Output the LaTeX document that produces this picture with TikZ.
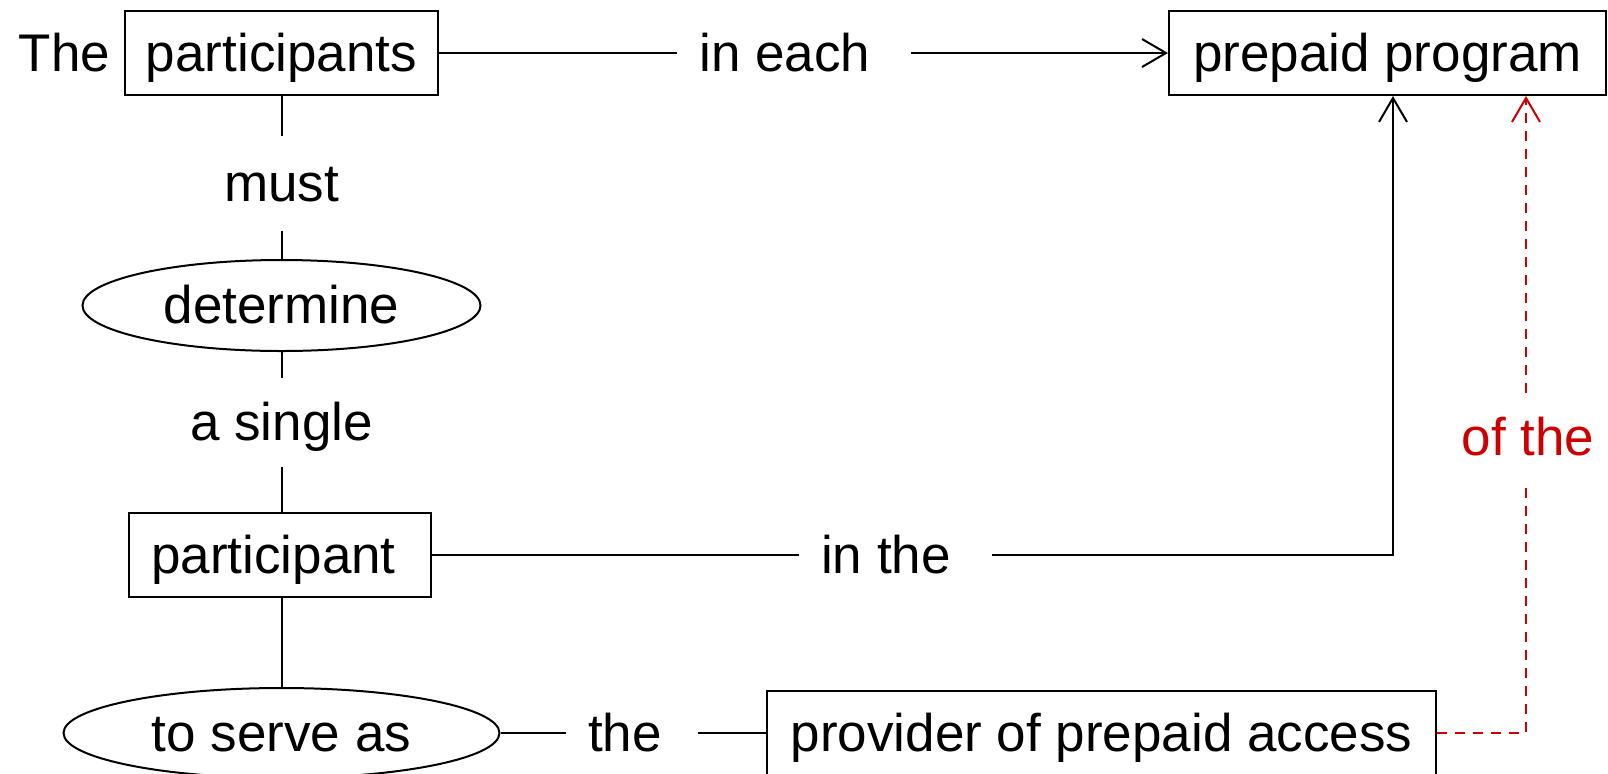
\documentclass[tikz,border=0pt]{standalone}
\usepackage{fontspec}
\setmainfont{Liberation Sans}
\usetikzlibrary{arrows.meta,shapes.geometric}
\definecolor{darkred}{RGB}{204,0,0}
\newcommand{\padL}[1]{\rule{#1}{0pt}}
\begin{document}
\begin{tikzpicture}[x=0.5pt,y=-0.5pt,
  every node/.style={font=\fontsize{26.5}{31}\selectfont, inner sep=0pt, text height=22pt, text depth=4pt},
  rbox/.style={draw, line width=1pt, rectangle},
  ell/.style={draw, line width=1pt, ellipse},
  conn/.style={line width=1pt},
  tip/.style={-{Straight Barb[length=12pt,width=14pt,line width=1pt]}},
  reddash/.style={conn, draw=darkred, dash pattern=on 5pt off 4pt},
]
\useasboundingbox (0,0) rectangle (1608,773);
% nodes
\node (the) at (64.5,53) {The};
\node[rbox, minimum width=156.5pt, minimum height=42pt] (participants) at (281.5,53) {participants};
\node[rbox, minimum width=218.5pt, minimum height=42pt] (prepaid) at (1387.5,53) {prepaid program};
\node (ineach) at (794,53) {\padL{11pt}in each\padL{20pt}};
\node[minimum height=47.5pt] (must) at (281.5,183.5) {must};
\node[ell, minimum width=199pt, minimum height=45.5pt] (determine) at (281.5,305.5) {determine};
\node[minimum height=44.5pt] (asingle) at (281.5,422.5) {a single};
\node[rbox, minimum width=151pt, minimum height=42pt] (participant) at (280,555) {participant\padL{6.5pt}};
\node (inthe) at (895.5,555) {\padL{11pt}in the\padL{20.5pt}};
\node[ell, minimum width=218pt, minimum height=45pt] (serve) at (281.5,733) {to serve as};
\node (thelab) at (632,733) {\padL{11pt}the\padL{18pt}};
\node[rbox, minimum width=334.5pt, minimum height=42pt] (provider) at (1101.5,733) {provider of prepaid access};
\node[text=darkred, minimum height=43.5pt] (ofthe) at (1528,437) {of the};
% connectors
\draw[conn] (participants) -- (ineach);
\draw[conn,tip] (ineach) -- (prepaid);
\draw[conn] (participants) -- (must);
\draw[conn] (must) -- (determine);
\draw[conn] (determine) -- (asingle);
\draw[conn] (asingle) -- (asingle |- participant.north);
\draw[conn] (participant) -- (inthe);
\draw[conn,tip] (inthe) -| ([xshift=2.75pt]prepaid.south);
\draw[conn] (participant.south -| serve.north) -- (serve.north);
\draw[conn] (serve) -- (thelab);
\draw[conn] (thelab) -- (provider);
\draw[reddash] (provider) -| ([xshift=-1pt]ofthe.south);
\draw[reddash,tip] ([xshift=-1pt]ofthe.north) -- ([xshift=-1pt]ofthe.north |- prepaid.south);
\end{tikzpicture}
\end{document}
